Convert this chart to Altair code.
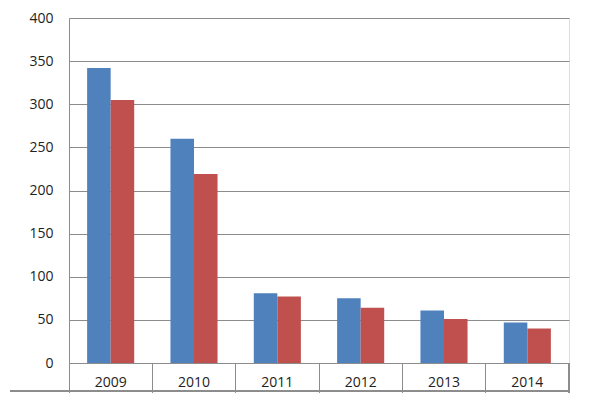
import altair as alt
import pandas as pd

years = ["2009", "2010", "2011", "2012", "2013", "2014"]
series_a = [342, 260, 81, 75, 61, 47]
series_b = [305, 219, 77, 64, 51, 40]
series_names = ["A", "B"]
colors = ["#4F81BD", "#C0504D"]

rows = []
for y, a, b in zip(years, series_a, series_b):
    rows.append({"year": y, "series": "A", "value": a})
    rows.append({"year": y, "series": "B", "value": b})
df = pd.DataFrame(rows)

W, H = 500, 345
FONT = "Open Sans"

x_scale = alt.Scale(paddingInner=0, paddingOuter=0)

bars = alt.Chart(df).mark_bar().encode(
    x=alt.X("year:N", scale=x_scale, title=None,
            axis=alt.Axis(labelAngle=0, bandPosition=0, tickSize=32, tickColor="#8c8c8c",
                          domainColor="#8c8c8c", labelFont=FONT, labelFontSize=14,
                          labelColor="#222222", labelPadding=-20, labelBaseline="top",
                          ticks=True, grid=False)),
    xOffset=alt.XOffset("series:N", scale=alt.Scale(paddingInner=0, paddingOuter=0.77)),
    y=alt.Y("value:Q", scale=alt.Scale(domain=[0, 400]), title=None,
            axis=alt.Axis(values=list(range(0, 401, 50)), ticks=False, domainColor="#8c8c8c",
                          gridColor="#8c8c8c", labelFont=FONT, labelFontSize=14,
                          labelColor="#222222", labelPadding=16)),
    color=alt.Color("series:N", scale=alt.Scale(domain=series_names, range=colors), legend=None),
)

right_edge = alt.Chart(df).mark_rule(color="#8c8c8c").encode(
    x=alt.value(W), y=alt.value(H), y2=alt.value(H + 32))
bottom_line = alt.Chart(df).mark_rule(color="#8c8c8c").encode(
    x=alt.value(-59), x2=alt.value(W), y=alt.value(H + 28))

chart = alt.layer(bars, right_edge, bottom_line).properties(
    width=W, height=H,
    autosize=alt.AutoSizeParams(type="none"),
    padding={"left": 61, "top": 10, "right": 4, "bottom": 30},
).configure_view(stroke=None).configure(background="white")

chart.save("out.html", embed_options={"renderer": "svg", "actions": False})
